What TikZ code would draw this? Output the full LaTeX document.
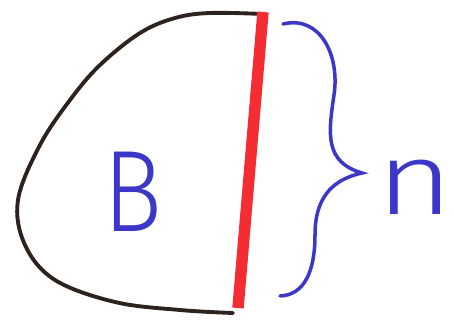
\documentclass[tikz,border=0pt]{standalone}
\usepackage{fontspec}
\newfontfamily\handfont{Fira Sans Light}
\usepackage{tikz}
\usetikzlibrary{calc}

\begin{document}
\begin{tikzpicture}[x=0.02cm,y=-0.02cm]
\definecolor{c1}{RGB}{45,35,30}
\definecolor{c2}{RGB}{245,45,50}
\definecolor{c3}{RGB}{60,55,200}
\useasboundingbox (0,0) rectangle (454,325);
\coordinate (A1) at (263,14);
\coordinate (A2) at (233,313);
\coordinate (R1) at (263,12);
\coordinate (R2) at (238,308);
\coordinate (C1) at (283,24);
\coordinate (C2) at (334,95);
\coordinate (C3) at (362,173);
\coordinate (C4) at (315,235);
\coordinate (C5) at (280,296);

\draw[color=c1, line width=2.2pt, line cap=round] plot[smooth, tension=0.6] coordinates {(A1) (210,13) (175,18) (140,33) (100,65) (70,100) (40,145) (18,200) (25,245) (55,280) (115,302) (180,310) (A2)};

\draw[color=c2, line width=6.5pt] (R1) -- (R2);

\draw[color=c3, line width=2pt, line cap=round] (C1) .. controls (320,15) and (340,55) .. (C2) .. controls (328,135) and (325,162) .. (C3) .. controls (330,180) and (315,200) .. (C4) .. controls (315,270) and (305,295) .. (C5);

\node[text=c3, font=\handfont\fontsize{66}{66}\selectfont, xscale=0.85] (B) at (133,192) {B};
\node[text=c3, font=\handfont\fontsize{58}{58}\selectfont, anchor=base west, inner sep=0pt, xscale=1.3] (n) at (376,214) {n};
\end{tikzpicture}
\end{document}
